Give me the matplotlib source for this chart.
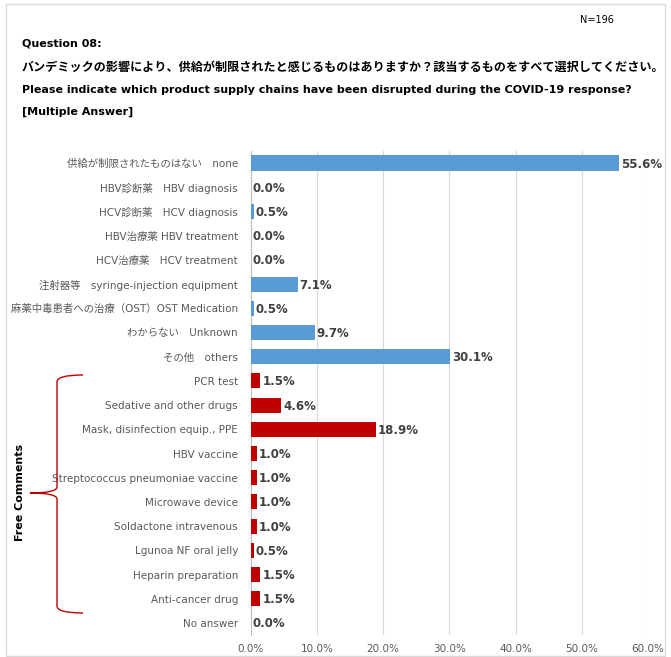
import numpy as np
import matplotlib
matplotlib.use("Agg")
import matplotlib.pyplot as plt
from matplotlib.path import Path
from matplotlib.patches import PathPatch, Rectangle

plt.rcParams['font.family'] = ['DejaVu Sans', 'Noto Sans CJK JP']

# 設問の選択肢（上から順に）
categories = [
    "供給が制限されたものはない\u3000none",
    "HBV診断薬\u3000HBV diagnosis",
    "HCV診断薬\u3000HCV diagnosis",
    "HBV治療薬 HBV treatment",
    "HCV治療薬\u3000HCV treatment",
    "注射器等\u3000syringe-injection equipment",
    "麻薬中毒患者への治療（OST）OST Medication",
    "わからない\u3000Unknown",
    "その他\u3000others",
    "PCR test",
    "Sedative and other drugs",
    "Mask, disinfection equip., PPE",
    "HBV vaccine",
    "Streptococcus pneumoniae vaccine",
    "Microwave device",
    "Soldactone intravenous",
    "Lgunoa NF oral jelly",
    "Heparin preparation",
    "Anti-cancer drug",
    "No answer",
]
percent = [55.6, 0.0, 0.5, 0.0, 0.0, 7.1, 0.5, 9.7, 30.1,
           1.5, 4.6, 18.9, 1.0, 1.0, 1.0, 1.0, 0.5, 1.5, 1.5, 0.0]
# 0 = 選択肢, 1 = 自由記述
group = [0] * 9 + [1] * 10 + [0]

xticks = [0, 10, 20, 30, 40, 50, 60]

W, H = 671, 657
fig = plt.figure(figsize=(W / 100, H / 100), dpi=100)

def fx(px):
    return px / W

def fy(py):
    return 1 - py / H

# 外枠
fig.patches.append(Rectangle((fx(6), fy(656)), fx(665) - fx(6), fy(4) - fy(656),
                             transform=fig.transFigure, fill=False,
                             edgecolor='#D9D9D9', linewidth=1.0))

fig.text(fx(580), fy(20), "N=196", fontsize=7, color='black', va='center')
fig.text(fx(22), fy(43), "Question 08:", fontsize=8, fontweight='bold', va='center')
fig.text(fx(22), fy(67), "バンデミックの影響により、供給が制限されたと感じるものはありますか？該当するものをすべて選択してください。",
         fontsize=8.7, fontweight='bold', va='center', family=['Noto Sans CJK JP'])
fig.text(fx(22), fy(90), "Please indicate which product supply chains have been disrupted during the COVID-19 response?",
         fontsize=8, fontweight='bold', va='center')
fig.text(fx(22), fy(112), "[Multiple Answer]", fontsize=8, fontweight='bold', va='center')

ax = fig.add_axes([fx(250.5), fy(635.1), fx(648) - fx(250.5), fy(150.9) - fy(635.1)])

y = np.arange(len(categories))
colors = ['#C00000' if g else '#5B9BD5' for g in group]
ax.barh(y, percent, height=0.62, color=colors, linewidth=0, zorder=3)

for yi, v in zip(y, percent):
    ax.annotate(f"{v:.1f}%", (v, yi), xytext=(2, -1), textcoords='offset pixels',
                ha='left', va='center', fontsize=8.5, fontweight='bold', color='#404040')

ax.set_ylim(len(categories) - 0.5, -0.5)
ax.set_xlim(0, 60)
ax.set_xticks(xticks)
ax.set_xticklabels([f"{t:.1f}%" for t in xticks])
ax.set_yticks(y)
ax.set_yticklabels(categories)
ax.tick_params(axis='both', length=0, labelsize=7.5, labelcolor='#595959')
ax.tick_params(axis='y', pad=9)
ax.tick_params(axis='x', pad=6.5)

ax.grid(axis='x', color='#D9D9D9', linewidth=0.8, zorder=0)
for s in ['top', 'right', 'bottom']:
    ax.spines[s].set_visible(False)
ax.spines['left'].set_color('#BFBFBF')
ax.spines['left'].set_linewidth(0.8)

# 自由記述の括弧
pts = [(83, 375), (57, 375), (57, 382),
       (57, 487),
       (57, 493), (30, 493),
       (57, 493), (57, 499),
       (57, 606),
       (57, 613), (83, 613)]
codes = [Path.MOVETO, Path.CURVE3, Path.CURVE3,
         Path.LINETO,
         Path.CURVE3, Path.CURVE3,
         Path.CURVE3, Path.CURVE3,
         Path.LINETO,
         Path.CURVE3, Path.CURVE3]
brace = Path([(fx(px), fy(py)) for px, py in pts], codes)
fig.patches.append(PathPatch(brace, transform=fig.transFigure, fill=False,
                             edgecolor='#C00000', linewidth=1.0))
fig.text(fx(20), fy(492), "Free Comments", rotation=90, fontsize=8,
         fontweight='bold', ha='center', va='center')

fig.savefig("out.png", dpi=100)
